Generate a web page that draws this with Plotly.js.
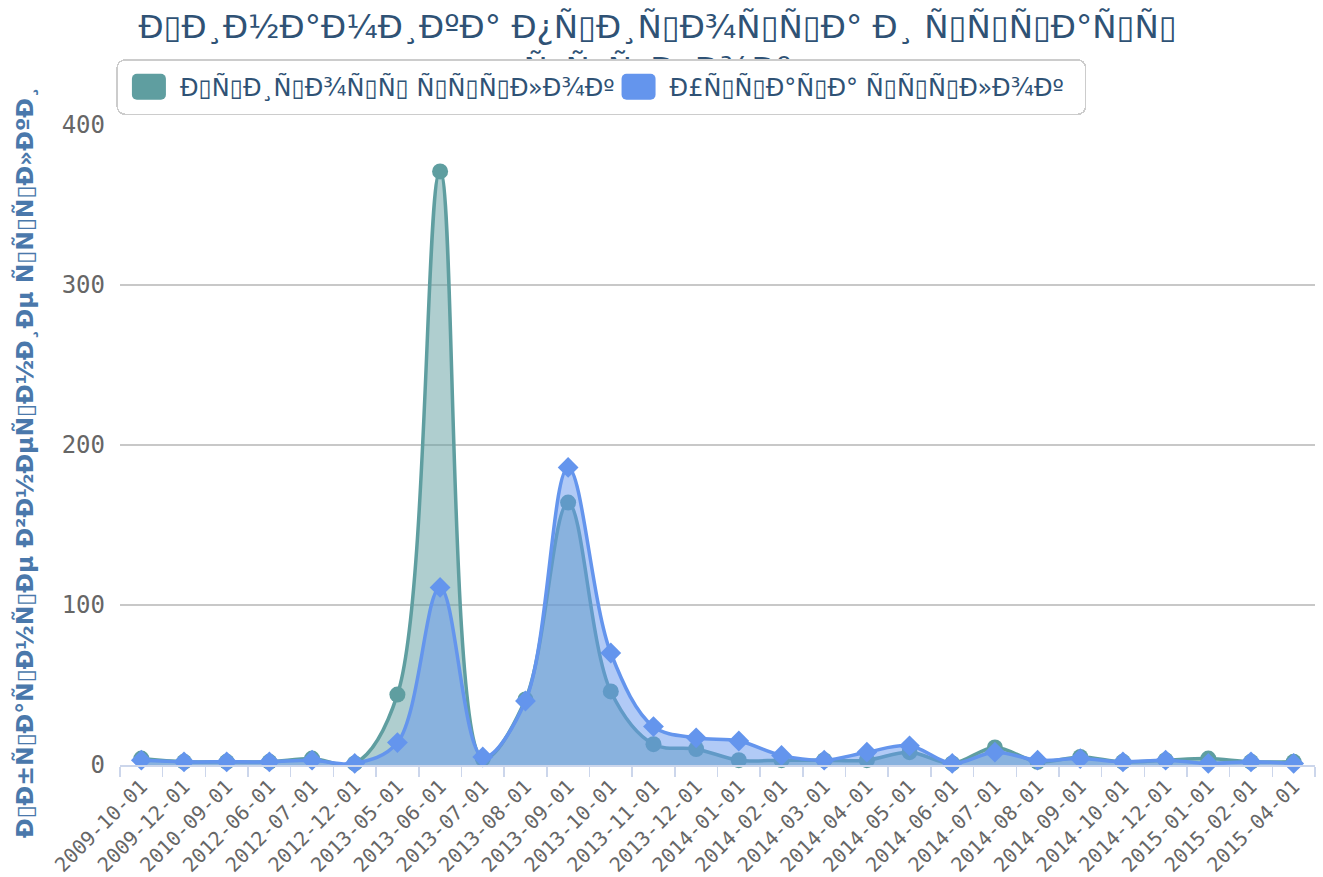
<!DOCTYPE html>
<html>
<head>
<meta charset="utf-8">
<script src="https://cdn.plot.ly/plotly-3.0.1.min.js"></script>
<style>html,body{margin:0;padding:0;background:#fff;}#chart{width:1323px;height:877px;}</style>
</head>
<body>
<div id="chart"></div>
<script>
// Text as shown in the reference: UTF-8 Russian bytes displayed as Latin-1 (mojibake);
// the unprintable C1 bytes show as empty boxes.
function moj(s){
  return unescape(encodeURIComponent(s)).replace(/[\u0080-\u009F]/g, "\u25AF");
}

var titleLine1 = "Динамика прироста и утраты";
var titleLine2 = "ссылок";
var yTitle = "Обратные внешние ссылки";
var seriesNames = ["Прирост ссылок", "Утрата ссылок"];

var categories = ["2009-10-01","2009-12-01","2010-09-01","2012-06-01","2012-07-01","2012-12-01",
  "2013-05-01","2013-06-01","2013-07-01","2013-08-01","2013-09-01","2013-10-01","2013-11-01",
  "2013-12-01","2014-01-01","2014-02-01","2014-03-01","2014-04-01","2014-05-01","2014-06-01",
  "2014-07-01","2014-08-01","2014-09-01","2014-10-01","2014-12-01","2015-01-01","2015-02-01","2015-04-01"];

var gained = [4,2,2,2,4,1,44,371,4,41,164,46,13,10,3,3,3,3,8,1,11,2,5,2,3,4,2,2];
var lost   = [3,2,2,2,3,1,14,111,5,40,186,70,24,17,15,6,3,8,12,1,8,3,4,2,3,1,2,1];

var yTicks = [0,100,200,300,400];

var c1 = "#5F9EA0", c2 = "#6495ED";

var traces = [
  {x: categories, y: gained, type: "scatter", mode: "lines+markers", name: moj(seriesNames[0]),
   line: {color: c1, width: 3.5, shape: "spline", smoothing: 1},
   marker: {color: c1, size: 16, symbol: "circle"},
   fill: "tozeroy", fillcolor: "rgba(95,158,160,0.5)", showlegend: false, cliponaxis: false},
  {x: categories, y: lost, type: "scatter", mode: "lines+markers", name: moj(seriesNames[1]),
   line: {color: c2, width: 3.5, shape: "spline", smoothing: 1},
   marker: {color: c2, size: 16, symbol: "diamond"},
   fill: "tozeroy", fillcolor: "rgba(100,149,237,0.5)", showlegend: false, cliponaxis: false},
  {x: [categories[0]], y: [0], type: "bar", name: moj(seriesNames[0]), marker: {color: c1}, hoverinfo: "skip"},
  {x: [categories[0]], y: [0], type: "bar", name: moj(seriesNames[1]), marker: {color: c2}, hoverinfo: "skip"}
];

var layout = {
  width: 1323, height: 877,
  margin: {l: 120, r: 8, t: 125, b: 112},
  paper_bgcolor: "#fff", plot_bgcolor: "#fff",
  title: {text: moj(titleLine1) + "<br>" + moj(titleLine2), xref: "container", x: 0.497, y: 0.957, yanchor: "top",
          font: {family: "DejaVu Sans", size: 32.5, color: "#2f5275"}},
  showlegend: true,
  legend: {orientation: "h", x: -0.003, xanchor: "left", y: 1.103, yanchor: "top",
           bgcolor: "#fff", bordercolor: "#cccccc", borderwidth: 1.5,
           font: {family: "DejaVu Sans", size: 24, color: "#2f5275"}, itemwidth: 40, traceorder: "normal"},
  xaxis: {type: "category", range: [-0.5, 27.5], tickangle: -45, tickson: "boundaries",
          ticks: "outside", ticklen: 10, tickcolor: "#ccd6eb", tickwidth: 1.5,
          showline: true, linecolor: "#ccd6eb", linewidth: 2, showgrid: false, zeroline: false,
          tickfont: {family: "DejaVu Sans Mono", size: 20, color: "#666666"}, fixedrange: true},
  yaxis: {range: [0, 400], tickvals: yTicks, ticktext: yTicks.map(String),
          showgrid: true, gridcolor: "#c8c8c8", gridwidth: 1.5, zeroline: false, showline: false,
          ticklabelstandoff: 14,
          tickfont: {family: "DejaVu Sans Mono", size: 24, color: "#666666"},
          fixedrange: true},
  annotations: [{text: moj(yTitle), xref: "paper", yref: "paper", x: (25 - 120) / 1195, y: (765 - 462) / 640,
                 xanchor: "center", yanchor: "middle", textangle: -90, showarrow: false,
                 font: {family: "DejaVu Sans", size: 23.5, color: "#4a78ab", weight: "bold"}}],
  bargap: 0.5
};

Plotly.newPlot("chart", traces, layout, {displayModeBar: false, staticPlot: true}).then(function(gd){
  var leg = gd.querySelector(".infolayer .legend");
  if (!leg) return;
  // legend box sits above the second title line, as in the reference
  leg.parentNode.appendChild(leg);
  var bg = leg.querySelector("rect.bg");
  if (bg) {
    bg.setAttribute("rx", 8); bg.setAttribute("ry", 8);
    bg.setAttribute("height", parseFloat(bg.getAttribute("height")) + 8);
    bg.setAttribute("width", parseFloat(bg.getAttribute("width")) + 28);
  }
  var sb = leg.querySelector(".scrollbox");
  if (sb) sb.removeAttribute("clip-path");
  var groups = leg.querySelector(".groups");
  if (groups) groups.setAttribute("transform", (groups.getAttribute("transform") || "") + " translate(6,4)");
  leg.querySelectorAll(".legendpoints path").forEach(function(p){
    p.setAttribute("d", "M-12,-13H12A5,5 0 0 1 17,-8V8A5,5 0 0 1 12,13H-12A5,5 0 0 1 -17,8V-8A5,5 0 0 1 -12,-13Z");
  });
  leg.querySelectorAll("text.legendtext").forEach(function(t){
    t.setAttribute("x", parseFloat(t.getAttribute("x")) + 6);
  });
});
</script>
</body>
</html>
